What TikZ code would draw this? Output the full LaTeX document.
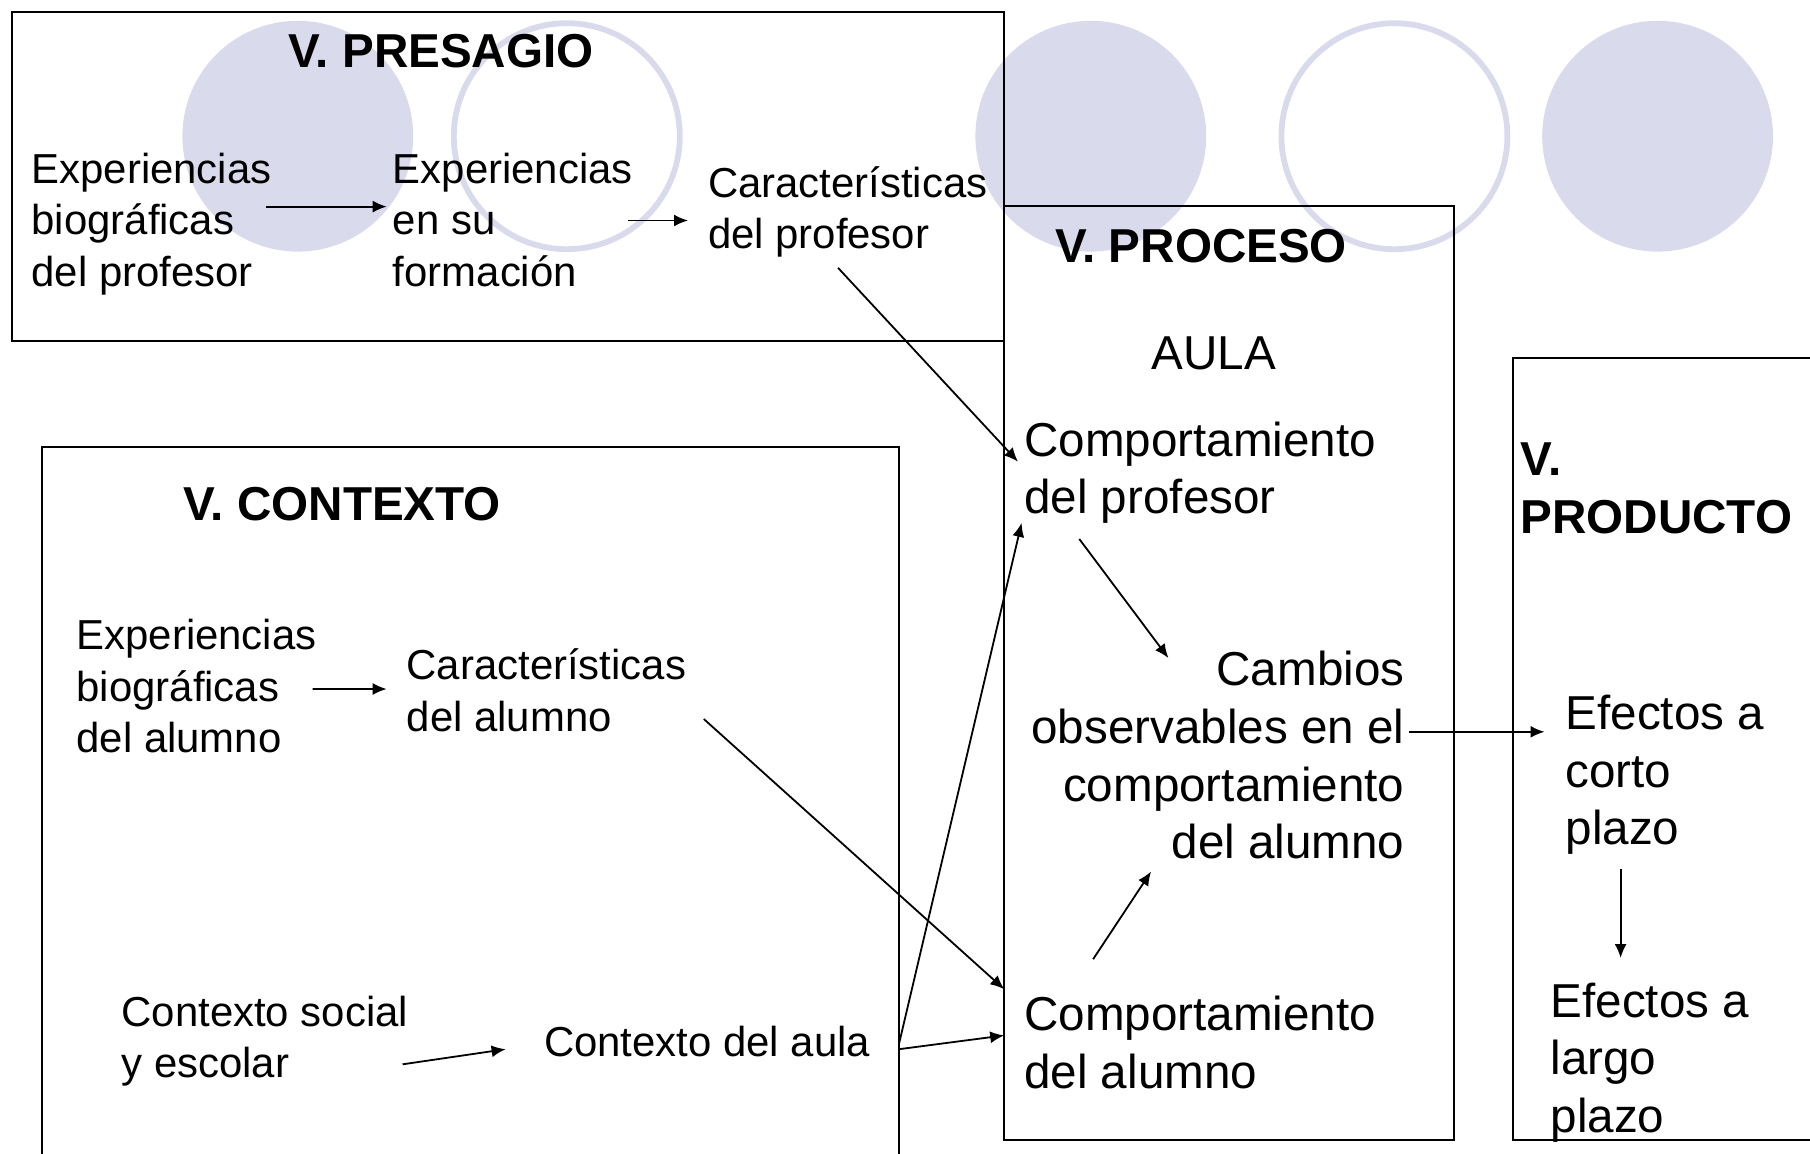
\documentclass[tikz,border=0pt]{standalone}
\usepackage{tikz}
\usepackage{fontspec}
\setmainfont{Liberation Sans}
\usetikzlibrary{arrows.meta}

\definecolor{lav}{RGB}{218,218,237}

\tikzset{
  lbl/.style={inner sep=0pt, align=left, font=\fontsize{20.95}{25.7}\selectfont},
  lblbig/.style={inner sep=0pt, align=left, font=\fontsize{23.8}{28.85}\selectfont},
  ttl/.style={inner sep=0pt, align=left, font=\fontsize{23.8}{28.85}\selectfont\bfseries},
  dot/.style={fill=lav, draw=none},
  ring/.style={draw=lav, line width=2.9pt},
  frame/.style={line width=1pt},
  conn/.style={->, line width=0.9pt},
}

\begin{document}
\begin{tikzpicture}[>={Latex[length=7pt,width=6pt]}, x=0.5pt, y=-0.5pt]

\useasboundingbox (0,0) rectangle (1810,1153);
%\draw[step=50, gray!30] (0,0) grid (1810,1153);

    	\foreach \cx in {297.8, 1090.8, 1657.6}
     		\fill[dot] (\cx,136.2) circle[radius=115.4];
    	\foreach \cx in {566.8, 1394.4}
     		\draw[ring] (\cx,136.2) circle[radius=113];

\draw[frame] (11.5,11.5) rectangle (1004.2,340.5);
\draw[frame] (1004.2,205.5) rectangle (1454.4,1140.4);
\draw[frame] (1820,357.8) -- (1513.3,357.8) -- (1513.3,1140.4) -- (1820,1140.4);
\draw[frame] (41.6,1160) -- (41.6,446.7) -- (899.2,446.7) -- (899.2,1160);

% base anchor = last line
\node[ttl, anchor=base] (tpres) at (441,67.8) {V. PRESAGIO};
\node[lbl, anchor=base west] (exbio) at (31.2,286.3) {Experiencias\\biográficas\\del profesor};
\node[lbl, anchor=base west] (exform) at (392.5,286.3) {Experiencias\\en su\\formación};
\node[lbl, anchor=base west] (carprof) at (707.6,248.8) {Características\\del profesor};

\node[ttl, anchor=base] (tproc) at (1201,262.9) {V. PROCESO};
\node[lblbig, anchor=base] (aula) at (1214,369.4) {AULA};
\node[lblbig, anchor=base west] (compprof) at (1023.9,513.7) {Comportamiento\\del profesor};
\node[lblbig, anchor=base east, align=right] (cambios) at (1404.8,858.8) {Cambios\\observables en el\\comportamiento\\del alumno};
\node[lblbig, anchor=base west] (compalum) at (1023.9,1088.5) {Comportamiento\\del alumno};

\node[ttl, anchor=base west] (tprod) at (1520.2,533.3) {V.\\PRODUCTO};
\node[lblbig, anchor=base west] (corto) at (1565.2,844.9) {Efectos a\\corto\\plazo};
\node[lblbig, anchor=base west] (largo) at (1550.2,1132.4) {Efectos a\\largo\\plazo};

\node[ttl, anchor=base] (tcont) at (342.2,520.3) {V. CONTEXTO};
\node[lbl, anchor=base west] (exbioal) at (76.2,752.7) {Experiencias\\biográficas\\del alumno};
\node[lbl, anchor=base west] (caralum) at (406.3,731.3) {Características\\del alumno};
\node[lbl, anchor=base west] (consoc) at (121.2,1077.6) {Contexto social\\y escolar};
\node[lbl, anchor=base west] (conaula) at (543.7,1056.2) {Contexto del aula};

\draw[conn] ([xshift=-2.75pt,yshift=39.85pt]exbio.base east) -- ([xshift=-2.9pt,yshift=39.85pt]exform.base west);
\draw[conn] ([xshift=-2.75pt,yshift=32.9pt]exform.base east) -- ([xshift=-9.8pt,yshift=14.15pt]carprof.base west);
\draw[conn] ([xshift=65.2pt,yshift=-9.5pt]carprof.base west) -- ([xshift=-2.95pt,yshift=26pt]compprof.base west);
\draw[conn] ([xshift=-2.15pt,yshift=31.85pt]exbioal.base east) -- ([xshift=-9.8pt,yshift=21.15pt]caralum.base west);
\draw[conn] ([xshift=8.65pt,yshift=6.15pt]caralum.base east) -- ([xshift=-9.85pt,yshift=49.65pt]compalum.base west);
\draw[conn] ([xshift=-2.95pt,yshift=6.65pt]consoc.base east) -- ([xshift=-19.05pt,yshift=3.5pt]conaula.base west);
\draw[conn] ([xshift=14.1pt,yshift=3.5pt]conaula.base east) -- ([xshift=-9.85pt,yshift=26.55pt]compalum.base west);
\draw[conn] ([xshift=14.1pt,yshift=5.8pt]conaula.base east) -- ([xshift=-1.15pt,yshift=-4.6pt]compprof.base west);
\draw[conn] ([xshift=27.7pt,yshift=-12.65pt]compprof.base west) -- ([xshift=68.75pt,yshift=100.4pt]cambios.base west);
\draw[conn] ([xshift=34.6pt,yshift=64.65pt]compalum.base west) -- ([xshift=60.1pt,yshift=-6.35pt]cambios.base west);
\draw[conn] ([xshift=2.3pt,yshift=63.5pt]cambios.base east) -- ([xshift=-10.35pt,yshift=56.55pt]corto.base west);
\draw[conn] ([xshift=27.7pt,yshift=-12.15pt]corto.base west) -- ([xshift=35.2pt,yshift=87.2pt]largo.base west);

\end{tikzpicture}
\end{document}
